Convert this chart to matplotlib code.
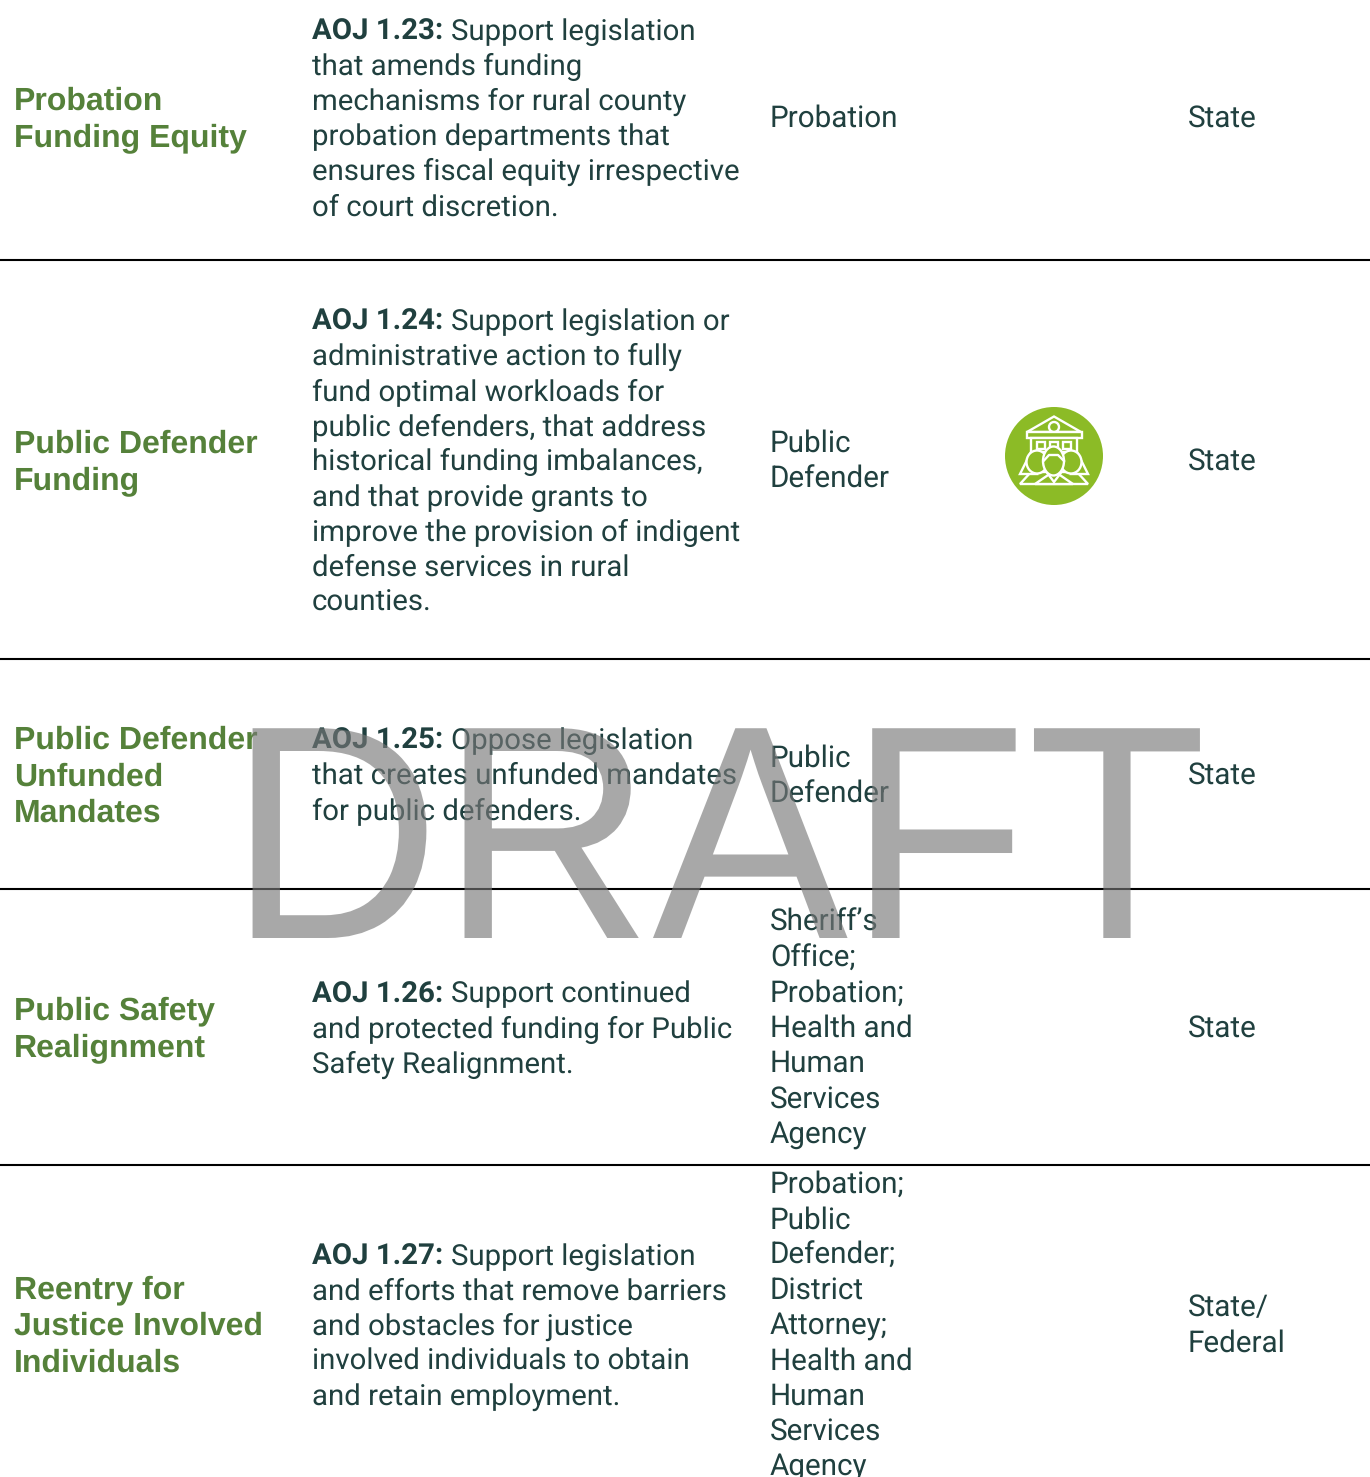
import matplotlib
matplotlib.use('Agg')
import matplotlib.pyplot as plt
from matplotlib.patches import Circle, Polygon, Rectangle, Ellipse
from matplotlib.patheffects import AbstractPathEffect
from matplotlib.transforms import Affine2D

plt.rcParams['text.hinting'] = 'no_hinting'

# contenido de la tabla
temas = [
    ['Probation', 'Funding Equity'],
    ['Public Defender', 'Funding'],
    ['Public Defender', 'Unfunded', 'Mandates'],
    ['Public Safety', 'Realignment'],
    ['Reentry for', 'Justice Involved', 'Individuals'],
]
codigos = ['AOJ 1.23:', 'AOJ 1.24:', 'AOJ 1.25:', 'AOJ 1.26:', 'AOJ 1.27:']
acciones = [
    ['Support legislation', 'that amends funding', 'mechanisms for rural county', 'probation departments that',
     'ensures fiscal equity irrespective', 'of court discretion.'],
    ['Support legislation or', 'administrative action to fully', 'fund optimal workloads for',
     'public defenders, that address', 'historical funding imbalances,', 'and that provide grants to',
     'improve the provision of indigent', 'defense services in rural', 'counties.'],
    ['Oppose legislation', 'that creates unfunded mandates', 'for public defenders.'],
    ['Support continued', 'and protected funding for Public', 'Safety Realignment.'],
    ['Support legislation', 'and efforts that remove barriers', 'and obstacles for justice',
     'involved individuals to obtain', 'and retain employment.'],
]
departamentos = [
    ['Probation'],
    ['Public', 'Defender'],
    ['Public', 'Defender'],
    ['Sheriff\u2019s', 'Office;', 'Probation;', 'Health and', 'Human', 'Services', 'Agency'],
    ['Probation;', 'Public', 'Defender;', 'District', 'Attorney;', 'Health and', 'Human', 'Services', 'Agency'],
]
niveles = [['State'], ['State'], ['State'], ['State'], ['State/', 'Federal']]

# posiciones en pixeles (linea base de la primera linea de cada fila)
base_tema = [110, 453, 749, 1019.5, 1298.5]
base_accion = [39.5, 329.5, 749, 1002.5, 1264.5]
base_depto = [127, 452, 767, 931, 1193]
base_nivel = [127, 470, 784, 1037, 1316]
separadores = [259.5, 658.5, 888.5, 1164.5]

VERDE = '#55813a'
OSCURO = '#20403f'
ICONO = '#8cbb26'


class EstiraVertical(AbstractPathEffect):   # estira el texto en vertical desde la linea base
    def __init__(self, factor):
        self.factor = factor

    def draw_path(self, renderer, gc, tpath, affine, rgbFace=None):
        renderer.draw_path(gc, tpath, Affine2D().scale(1, self.factor) + affine, rgbFace)


fig = plt.figure(figsize=(13.7, 14.77), dpi=100)
ax = fig.add_axes([0, 0, 1, 1])
ax.set_xlim(0, 1370)
ax.set_ylim(1477, 0)
ax.axis('off')

for y in separadores:
    ax.plot([0, 1370], [y, y], color='black', lw=1.5, solid_capstyle='butt', zorder=1)

renderer = fig.canvas.get_renderer()
CUERPO = dict(family='Roboto', fontsize=21.33, color=OSCURO, va='baseline', zorder=2)
ACCION = dict(CUERPO, fontsize=21.13)

for i in range(len(temas)):
    for j, linea in enumerate(temas[i]):
        ax.text(14, base_tema[i] + j * 36.5, linea, family='Liberation Sans', weight='bold',
                fontsize=23.05, color=VERDE, va='baseline', zorder=2)
    # el codigo va en negrita y el texto sigue en la misma linea
    t = ax.text(312, base_accion[i], codigos[i], weight='bold', **ACCION)
    fin = ax.transData.inverted().transform(t.get_window_extent(renderer))[1, 0]
    ax.text(fin + 8, base_accion[i], acciones[i][0], **ACCION)
    for j, linea in enumerate(acciones[i][1:], start=1):
        ax.text(312, base_accion[i] + j * 35.2, linea, **ACCION)
    for j, linea in enumerate(departamentos[i]):
        ax.text(770, base_depto[i] + j * 35.25, linea, **CUERPO)
    for j, linea in enumerate(niveles[i]):
        ax.text(1188, base_nivel[i] + j * 35.6, linea, **CUERPO)

# icono del juzgado con las tres personas
ax.add_patch(Circle((1054, 456), 49, color=ICONO, lw=0, zorder=2))
b = dict(fc=ICONO, ec='white', lw=1.7, zorder=3)
ax.add_patch(Polygon([[1027, 432], [1054, 416.5], [1081, 432]], closed=True, **b))
ax.add_patch(Circle((1054, 427), 5, **b))
ax.add_patch(Rectangle((1027, 432), 55, 5.5, **b))
ax.add_patch(Rectangle((1031, 437.5), 46, 14, **b))
for x in [1037, 1050, 1063]:
    ax.add_patch(Rectangle((x, 441.5), 8, 7, **b))
ax.add_patch(Polygon([[1020, 484], [1031, 472], [1077, 472], [1088, 484]], closed=True, **b))
for x, s in [(1037, -1), (1071, 1)]:
    ax.add_patch(Polygon([[x + s * 6, 452], [x + s * 17, 474], [x, 474]], closed=True, **b))
    ax.add_patch(Ellipse((x, 462), 21, 23, **b))
ax.add_patch(Polygon([[1035, 484], [1054, 471], [1073, 484]], closed=True, **b))
ax.add_patch(Polygon([[1048, 474], [1054, 482], [1060, 474]], closed=True, **b))
ax.add_patch(Ellipse((1053.5, 461), 21, 29, **b))
ax.plot([1043.5, 1049, 1058, 1064], [461, 455, 455, 461], color='white', lw=1.7, zorder=5)

# marca de agua
ax.text(228.5, 938, 'DRAFT', family='Liberation Sans', fontsize=211.3, color='#787878', alpha=0.64,
        va='baseline', zorder=6, path_effects=[EstiraVertical(1.039)])

fig.savefig('out.png', dpi=100)
